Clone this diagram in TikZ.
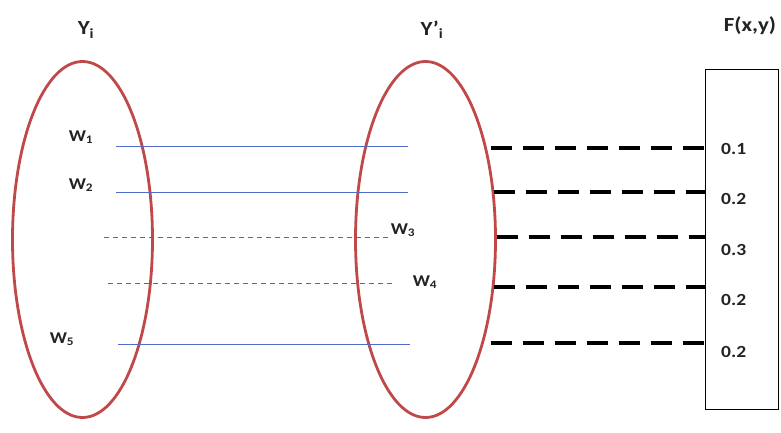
\documentclass[tikz,border=0pt]{standalone}
\usepackage{fontspec}
\setmainfont{Carlito}[FakeStretch=1.15]
\usetikzlibrary{shapes.geometric}
\definecolor{ellred}{RGB}{192,72,72}
\definecolor{lineblue}{RGB}{80,110,200}
\definecolor{dashcol}{RGB}{70,100,210}
\definecolor{txt}{RGB}{35,35,35}
\tikzset{
  setell/.style={draw=ellred, line width=2.8pt, ellipse, minimum width=140pt, minimum height=356pt, inner sep=0pt},
  solidblue/.style={draw=lineblue, line width=0.9pt},
  dashblue/.style={draw=dashcol, line width=1pt, dash pattern=on 5pt off 4pt},
  thickdash/.style={draw=black, line width=4.5pt, dash pattern=on 21pt off 11pt},
  lbl/.style={text=txt, font=\bfseries\fontsize{20}{22}\selectfont, inner sep=0pt},
  wlbl/.style={text=txt, font=\bfseries\fontsize{16.5}{18}\selectfont, inner sep=0pt},
  num/.style={text=txt, font=\bfseries\fontsize{17}{19}\selectfont, inner sep=0pt, anchor=west},
  fbox/.style={draw=black, line width=0.8pt, minimum width=73pt, minimum height=340pt, inner sep=0pt}
}
\begin{document}
\begin{tikzpicture}[x=1pt,y=-1pt]
\useasboundingbox (0,0) rectangle (781,432);
% sets
\node[setell] (A) at (82.5,239.5) {};
\node[setell] (B) at (425.5,239.5) {};
\node[fbox] (F) at (741.5,239) {};
% titles
\node[lbl] (tA) at (86,30) {Y\textsubscript{i}};
\node[lbl] (tB) at (432,30) {Y’\textsubscript{i}};
\node[lbl] (tF) at (750,26) {F(x,y)};
% W labels
\node[wlbl] (w1) at (81,137) {W\textsubscript{1}};
\node[wlbl] (w2) at (81,185) {W\textsubscript{2}};
\node[wlbl] (w3) at (403,230) {W\textsubscript{3}};
\node[wlbl] (w4) at (425,282) {W\textsubscript{4}};
\node[wlbl] (w5) at (62,339) {W\textsubscript{5}};
% blue line ends
\coordinate (a1) at (116,146); \coordinate (b1) at (408,146);
\coordinate (a2) at (116,192); \coordinate (b2) at (408,192);
\coordinate (a3) at (104,237); \coordinate (b3) at (390,237);
\coordinate (a4) at (108,283); \coordinate (b4) at (395,283);
\coordinate (a5) at (118,344); \coordinate (b5) at (410,344);
\draw[solidblue] (a1) -- (b1);
\draw[solidblue] (a2) -- (b2);
\draw[dashblue] (a3) -- (b3);
\draw[dashblue] (a4) -- (b4);
\draw[solidblue] (a5) -- (b5);
% thick dashed connectors
\coordinate (c1) at (491,148);
\coordinate (c2) at (494,192);
\coordinate (c3) at (497,237);
\coordinate (c4) at (494,287);
\coordinate (c5) at (491,343);
\draw[thickdash] (c1) -- (c1 -| F.west);
\draw[thickdash] (c2) -- (c2 -| F.west);
\draw[thickdash] (c3) -- (c3 -| F.west);
\draw[thickdash] (c4) -- (c4 -| F.west);
\draw[thickdash] (c5) -- (c5 -| F.west);
% values
\node[num] (v1) at (721,149) {0.1};
\node[num] (v2) at (721,199) {0.2};
\node[num] (v3) at (721,250) {0.3};
\node[num] (v4) at (721,300) {0.2};
\node[num] (v5) at (721,352) {0.2};
\end{tikzpicture}
\end{document}
